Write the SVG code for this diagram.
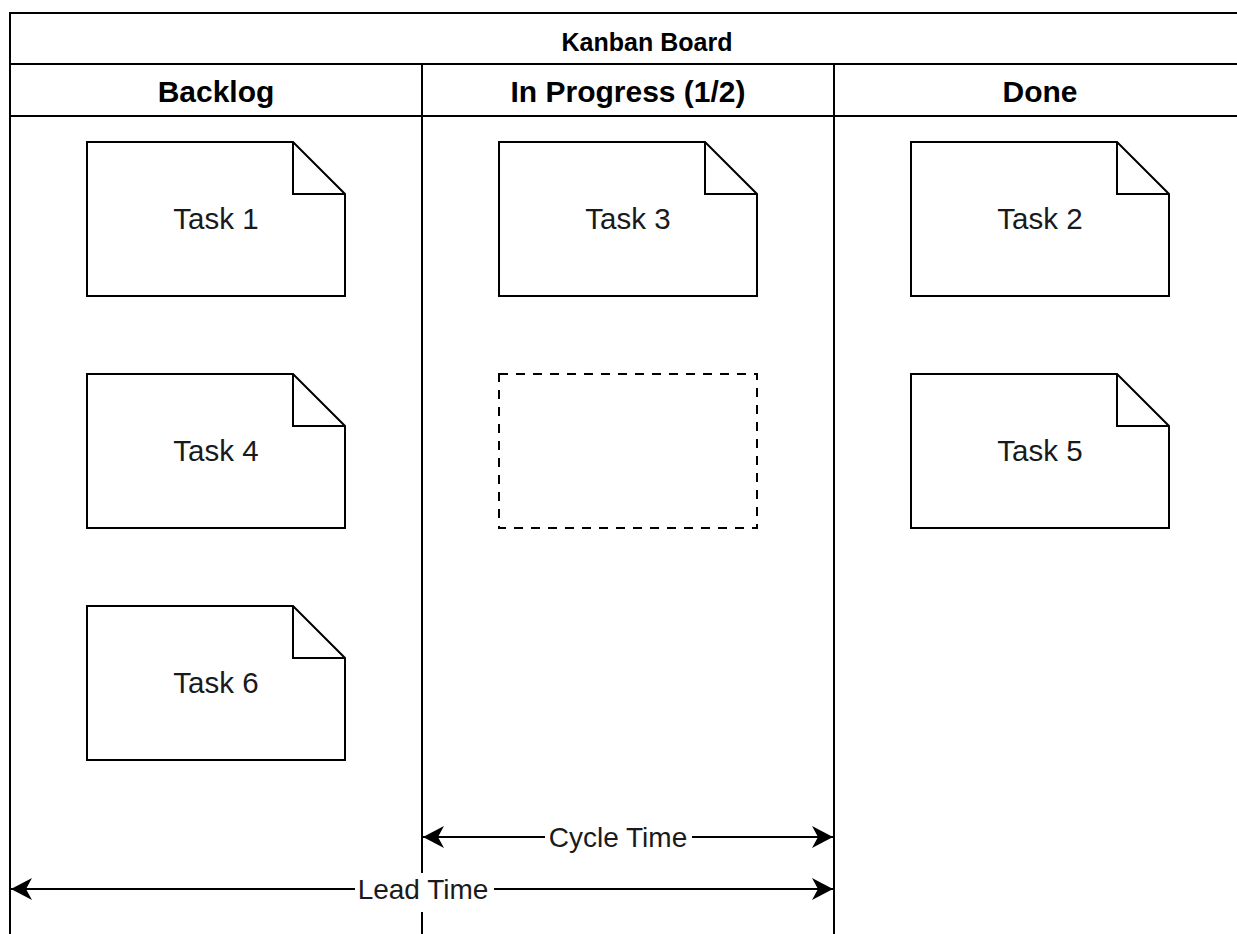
<svg xmlns="http://www.w3.org/2000/svg" width="1237" height="934" viewBox="0 0 1237 934">
  <style>
    .frame { fill: none; stroke: #000; stroke-width: 2; }
    .card { fill: #fff; stroke: #000; stroke-width: 2; stroke-linejoin: miter; }
    .slot { fill: none; stroke: #000; stroke-width: 2; stroke-dasharray: 9 8; }
    .title { font-family: "Liberation Sans", Arial, sans-serif; font-weight: bold; font-size: 25px; fill: #000; text-anchor: middle; }
    .head { font-family: "Liberation Sans", Arial, sans-serif; font-weight: bold; font-size: 30px; fill: #000; text-anchor: middle; }
    .label { font-family: "Liberation Sans", Arial, sans-serif; font-size: 29.5px; fill: #1a1a1a; text-anchor: middle; }
    .dim { fill: none; stroke: #000; stroke-width: 2; }
    .dimtext { font-family: "Liberation Sans", Arial, sans-serif; font-size: 28px; fill: #1a1a1a; text-anchor: middle; }
  </style>
  <defs>
    <marker id="arrowEnd" markerUnits="userSpaceOnUse" markerWidth="24" markerHeight="26" viewBox="-22 -12 24 24" refX="0" refY="0" orient="auto">
      <path d="M0,0 L-21,-11 L-15,0 L-21,11 Z" fill="#000"/>
    </marker>
    <marker id="arrowStart" markerUnits="userSpaceOnUse" markerWidth="24" markerHeight="26" viewBox="-2 -12 24 24" refX="0" refY="0" orient="auto">
      <path d="M0,0 L21,-11 L15,0 L21,11 Z" fill="#000"/>
    </marker>
  </defs>

  <rect x="0" y="0" width="1237" height="934" fill="#fff"/>

  <!-- board frame: title band, header row and column dividers -->
  <g id="board">
    <path class="frame" d="M10,940 V13 H1245 M10,64 H1245 M10,116 H1245 M422,64 V940 M834,64 V940"/>
    <text class="title" x="647" y="51">Kanban Board</text>
    <text class="head" x="216" y="102">Backlog</text>
    <text class="head" x="628" y="102">In Progress (1/2)</text>
    <text class="head" x="1040" y="102">Done</text>
  </g>

  <!-- task cards (note shape with folded corner) -->
  <g id="task1">
    <path class="card" d="M87,142 H293 L345,194 V296 H87 Z M293,142 V194 H345"/>
    <text class="label" x="216" y="229">Task 1</text>
  </g>
  <g id="task4">
    <path class="card" d="M87,374 H293 L345,426 V528 H87 Z M293,374 V426 H345"/>
    <text class="label" x="216" y="461">Task 4</text>
  </g>
  <g id="task6">
    <path class="card" d="M87,606 H293 L345,658 V760 H87 Z M293,606 V658 H345"/>
    <text class="label" x="216" y="693">Task 6</text>
  </g>
  <g id="task3">
    <path class="card" d="M499,142 H705 L757,194 V296 H499 Z M705,142 V194 H757"/>
    <text class="label" x="628" y="229">Task 3</text>
  </g>
  <g id="wip-slot">
    <rect class="slot" x="499" y="374" width="258" height="154"/>
  </g>
  <g id="task2">
    <path class="card" d="M911,142 H1117 L1169,194 V296 H911 Z M1117,142 V194 H1169"/>
    <text class="label" x="1040" y="229">Task 2</text>
  </g>
  <g id="task5">
    <path class="card" d="M911,374 H1117 L1169,426 V528 H911 Z M1117,374 V426 H1169"/>
    <text class="label" x="1040" y="461">Task 5</text>
  </g>

  <!-- time spans -->
  <g id="connectors">
    <g id="cycle-time">
      <line class="dim" x1="423" y1="837" x2="833" y2="837" marker-start="url(#arrowStart)" marker-end="url(#arrowEnd)"/>
      <rect x="545" y="822" width="147" height="32" fill="#fff"/>
      <text class="dimtext" x="618" y="847">Cycle Time</text>
    </g>
    <g id="lead-time">
      <line class="dim" x1="11" y1="889" x2="833" y2="889" marker-start="url(#arrowStart)" marker-end="url(#arrowEnd)"/>
      <rect x="355" y="873" width="139" height="39" fill="#fff"/>
      <text class="dimtext" x="423" y="899">Lead Time</text>
    </g>
  </g>
</svg>
